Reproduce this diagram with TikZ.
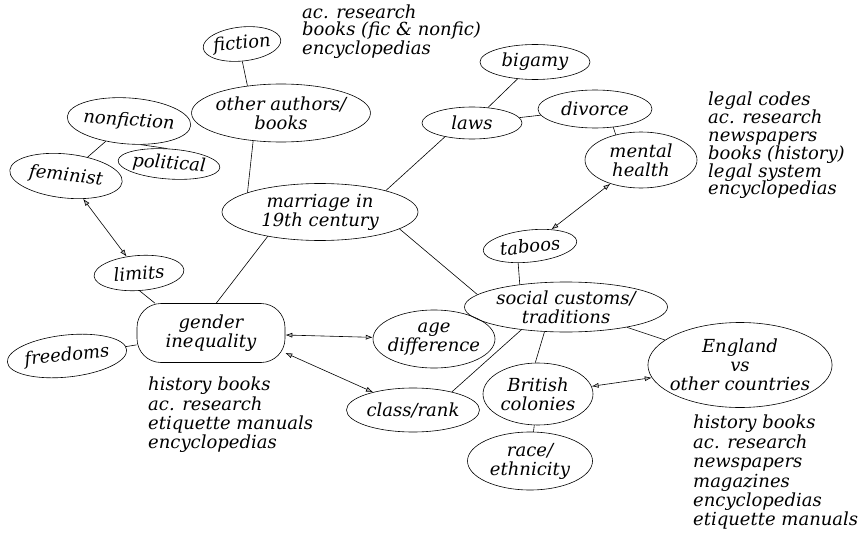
\documentclass[tikz,border=0pt]{standalone}
\usepackage{fontspec}
\setmainfont{DejaVu Serif}
\usetikzlibrary{shapes.geometric, arrows.meta, positioning}

\begin{document}
\begin{tikzpicture}[
    x=1pt, y=-1pt,
    font=\fontsize{18}{19}\selectfont\itshape,
    topic/.style={ellipse, draw, line width=0.6pt, align=center, inner sep=-2pt},
    hub/.style={rectangle, draw, line width=0.6pt, rounded corners=24pt, align=center},
    src/.style={align=left, anchor=north west, inner sep=0pt},
    link/.style={draw, line width=0.6pt},
    both/.style={{Latex[fill=gray!50, length=7pt, width=5pt]}-{Latex[fill=gray!50, length=7pt, width=5pt]}, line width=0.6pt}
  ]
  \useasboundingbox (0,0) rectangle (865,535);

  % centre and books
  \node[topic, minimum width=196pt, minimum height=57pt] (marriage) at (320,212) {marriage in\\19th century};
  \node[topic, minimum width=177pt, minimum height=58pt] (authors) at (281,113) {other authors/\\books};
  \node[topic, minimum width=78pt, minimum height=34pt, rotate=6] (fiction) at (242,44) {fiction};
  \node[topic, minimum width=118pt, minimum height=46pt, rotate=-4] (nonfic) at (129,121) {nonfiction};
  \node[topic, minimum width=102pt, minimum height=30pt, rotate=-4] (polit) at (169,164) {political};
  \node[topic, minimum width=113pt, minimum height=44pt, rotate=-6] (feminist) at (66,176) {feminist};

  % laws
  \node[topic, minimum width=100pt, minimum height=32pt] (laws) at (472,123) {laws};
  \node[topic, minimum width=110pt, minimum height=35pt] (bigamy) at (535,62) {bigamy};
  \node[topic, minimum width=114pt, minimum height=38pt] (divorce) at (595,109) {divorce};
  \node[topic, minimum width=112pt, minimum height=56pt] (mental) at (641,160) {mental\\health};
  \node[topic, minimum width=94pt, minimum height=32pt, rotate=6] (taboos) at (530,246) {taboos};

  % customs
  \node[topic, minimum width=203pt, minimum height=50pt] (customs) at (566,307) {social customs/\\traditions};
  \node[topic, minimum width=122pt, minimum height=58pt, inner xsep=-4pt] (age) at (434,339) {age\\difference};
  \node[topic, minimum width=133pt, minimum height=44pt] (rank) at (413,410) {class/rank};
  \node[topic, minimum width=110pt, minimum height=62pt] (colonies) at (538,394) {British\\colonies};
  \node[topic, minimum width=125pt, minimum height=58pt] (race) at (530,461) {race/\\ethnicity};
  \node[topic, minimum width=180pt, minimum height=85pt, inner xsep=-5pt] (england) at (740,365) {England\\vs\\other countries};

  % gender
  \node[hub, minimum width=148pt, minimum height=59pt] (gender) at (211,333) {gender\\inequality};
  \node[topic, minimum width=90pt, minimum height=35pt, rotate=4] (limits) at (139,273) {limits};
  \node[topic, minimum width=120pt, minimum height=42pt, rotate=6] (freedoms) at (67,356) {freedoms};

  % sources
  \node[src, font=\fontsize{18}{17}\selectfont\itshape] (srcbooks) at (302,5) {ac. research\\books (fic \& nonfic)\\encyclopedias};
  \node[src, font=\fontsize{18}{17.8}\selectfont\itshape] (srclaws) at (708,92) {legal codes\\ac. research\\newspapers\\books (history)\\legal system\\encyclopedias};
  \node[src, font=\fontsize{18}{19.3}\selectfont\itshape] (srcgender) at (148,377) {history books\\ac. research\\etiquette manuals\\encyclopedias};
  \node[src, font=\fontsize{18}{19.4}\selectfont\itshape] (srcengland) at (693,415) {history books\\ac. research\\newspapers\\magazines\\encyclopedias\\etiquette manuals};

  \draw[link] (fiction.-95) -- (authors.141);
  \draw[link] (authors.225) -- (marriage.165);
  \draw[link] (nonfic) -- (feminist);
  \draw[link] (nonfic.-60) -- (polit.100);
  \draw[link] (marriage.18) -- (laws.207);
  \draw[link] (bigamy) -- (laws);
  \draw[link] (laws) -- (divorce);
  \draw[link] (divorce.-45) -- (mental.135);
  \draw[link] (taboos.229) -- (customs.154);
  \draw[link] (marriage.-12) -- (customs.172);
  \draw[link] (marriage.205) -- (gender.80);
  \draw[link] (limits.-92) -- (gender.152);
  \draw[link] (freedoms) -- (gender);
  \draw[link] (rank.25) -- (customs.207);
  \draw[link] (customs.-131) -- (colonies.95);
  \draw[link] (customs) -- (england);
  \draw[link] (colonies) -- (race);

  \draw[both] (feminist) -- (limits);
  \draw[both] (mental) -- (taboos);
  \draw[both] (gender) -- (age);
  \draw[both] (gender.-15) -- (rank);
  \draw[both] (colonies) -- (england);
\end{tikzpicture}
\end{document}
